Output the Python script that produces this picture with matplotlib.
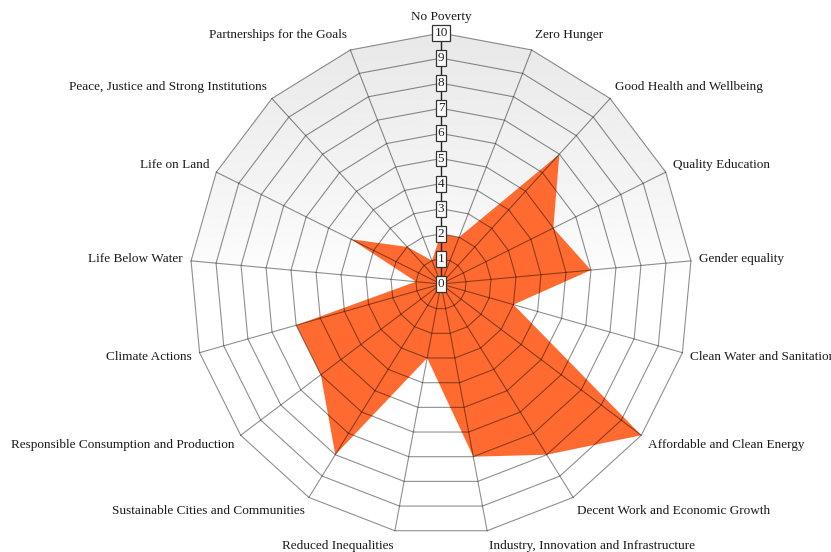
import numpy as np
import matplotlib
matplotlib.use("Agg")
import matplotlib.pyplot as plt
from matplotlib.patches import Polygon

categories = [
    "No Poverty", "Zero Hunger", "Good Health and Wellbeing", "Quality Education",
    "Gender equality", "Clean Water and Sanitation", "Affordable and Clean Energy",
    "Decent Work and Economic Growth", "Industry, Innovation and Infrastructure",
    "Reduced Inequalities", "Sustainable Cities and Communities",
    "Responsible Consumption and Production", "Climate Actions", "Life Below Water",
    "Life on Land", "Peace, Justice and Strong Institutions", "Partnerships for the Goals",
]
values = [2, 2, 7, 5, 6, 3, 10, 8, 7, 3, 8, 6, 6, 1, 4, 2, 1]
tick_values = [0, 1, 2, 3, 4, 5, 6, 7, 8, 9, 10]

FONT = "Liberation Serif"
rmax = tick_values[-1]
n = len(categories)
theta = np.arange(n) * 2 * np.pi / n
theta_closed = np.append(theta, theta[0])

fig = plt.figure(figsize=(8.31, 5.52), dpi=100)
W, H = 831, 552
cx, cy, R = 441, 284, 251
pos = [(cx - R) / W, (H - cy - R) / H, 2 * R / W, 2 * R / H]

# background gradient (cartesian axes behind)
bg = fig.add_axes(pos)
bg.set_xlim(-rmax, rmax)
bg.set_ylim(-rmax, rmax)
bg.set_aspect("equal")
bg.axis("off")
yy = np.linspace(-rmax, rmax, 400)
g = np.where(yy > 0, 1 - 0.09 * (yy / rmax) ** 0.8, 1.0)
img = np.repeat(g[:, None], 2, axis=1)
im = bg.imshow(img, cmap="gray", vmin=0, vmax=1, extent=[-rmax, rmax, -rmax, rmax],
               origin="lower", aspect="auto")
outer = np.column_stack([rmax * np.sin(theta), rmax * np.cos(theta)])
clip = Polygon(outer, closed=True, transform=bg.transData, fc="none", ec="none")
bg.add_patch(clip)
im.set_clip_path(clip)

ax = fig.add_axes(pos, projection="polar")
ax.set_theta_offset(np.pi / 2)
ax.set_theta_direction(-1)
ax.set_ylim(0, rmax)
ax.set_axis_off()

vals_closed = np.append(values, values[0])
ax.fill(theta_closed, vals_closed, color="#ff6a30", lw=0, zorder=2)

for r in tick_values[1:]:
    ax.plot(theta_closed, np.full(n + 1, r), color="black", alpha=0.44, lw=0.8,
            zorder=3, clip_on=False)
for i, t in enumerate(theta):
    if i == 0:
        ax.plot([t, t], [0, rmax], color="#222222", lw=1.0, zorder=4, clip_on=False)
    else:
        ax.plot([t, t], [0, rmax], color="black", alpha=0.44, lw=0.8, zorder=3, clip_on=False)

for t, lab in zip(theta, categories):
    s, c = np.sin(t), np.cos(t)
    if s > 0.05:
        ha = "left"
    elif s < -0.05:
        ha = "right"
    else:
        ha = "center"
    ax.annotate(lab, xy=(t, rmax), xytext=(8 * s, 16 * c), textcoords="offset pixels",
                ha=ha, va="center", fontsize=9.5, family=FONT, color="#1a1a1a",
                annotation_clip=False)

for r in tick_values:
    ax.text(0, r, str(r), ha="center", va="center", fontsize=9.5, family=FONT,
            color="#222222", zorder=6,
            bbox=dict(boxstyle="square,pad=0.15", fc="white", ec="#333333", lw=0.9))

fig.savefig("out.png", dpi=100)
